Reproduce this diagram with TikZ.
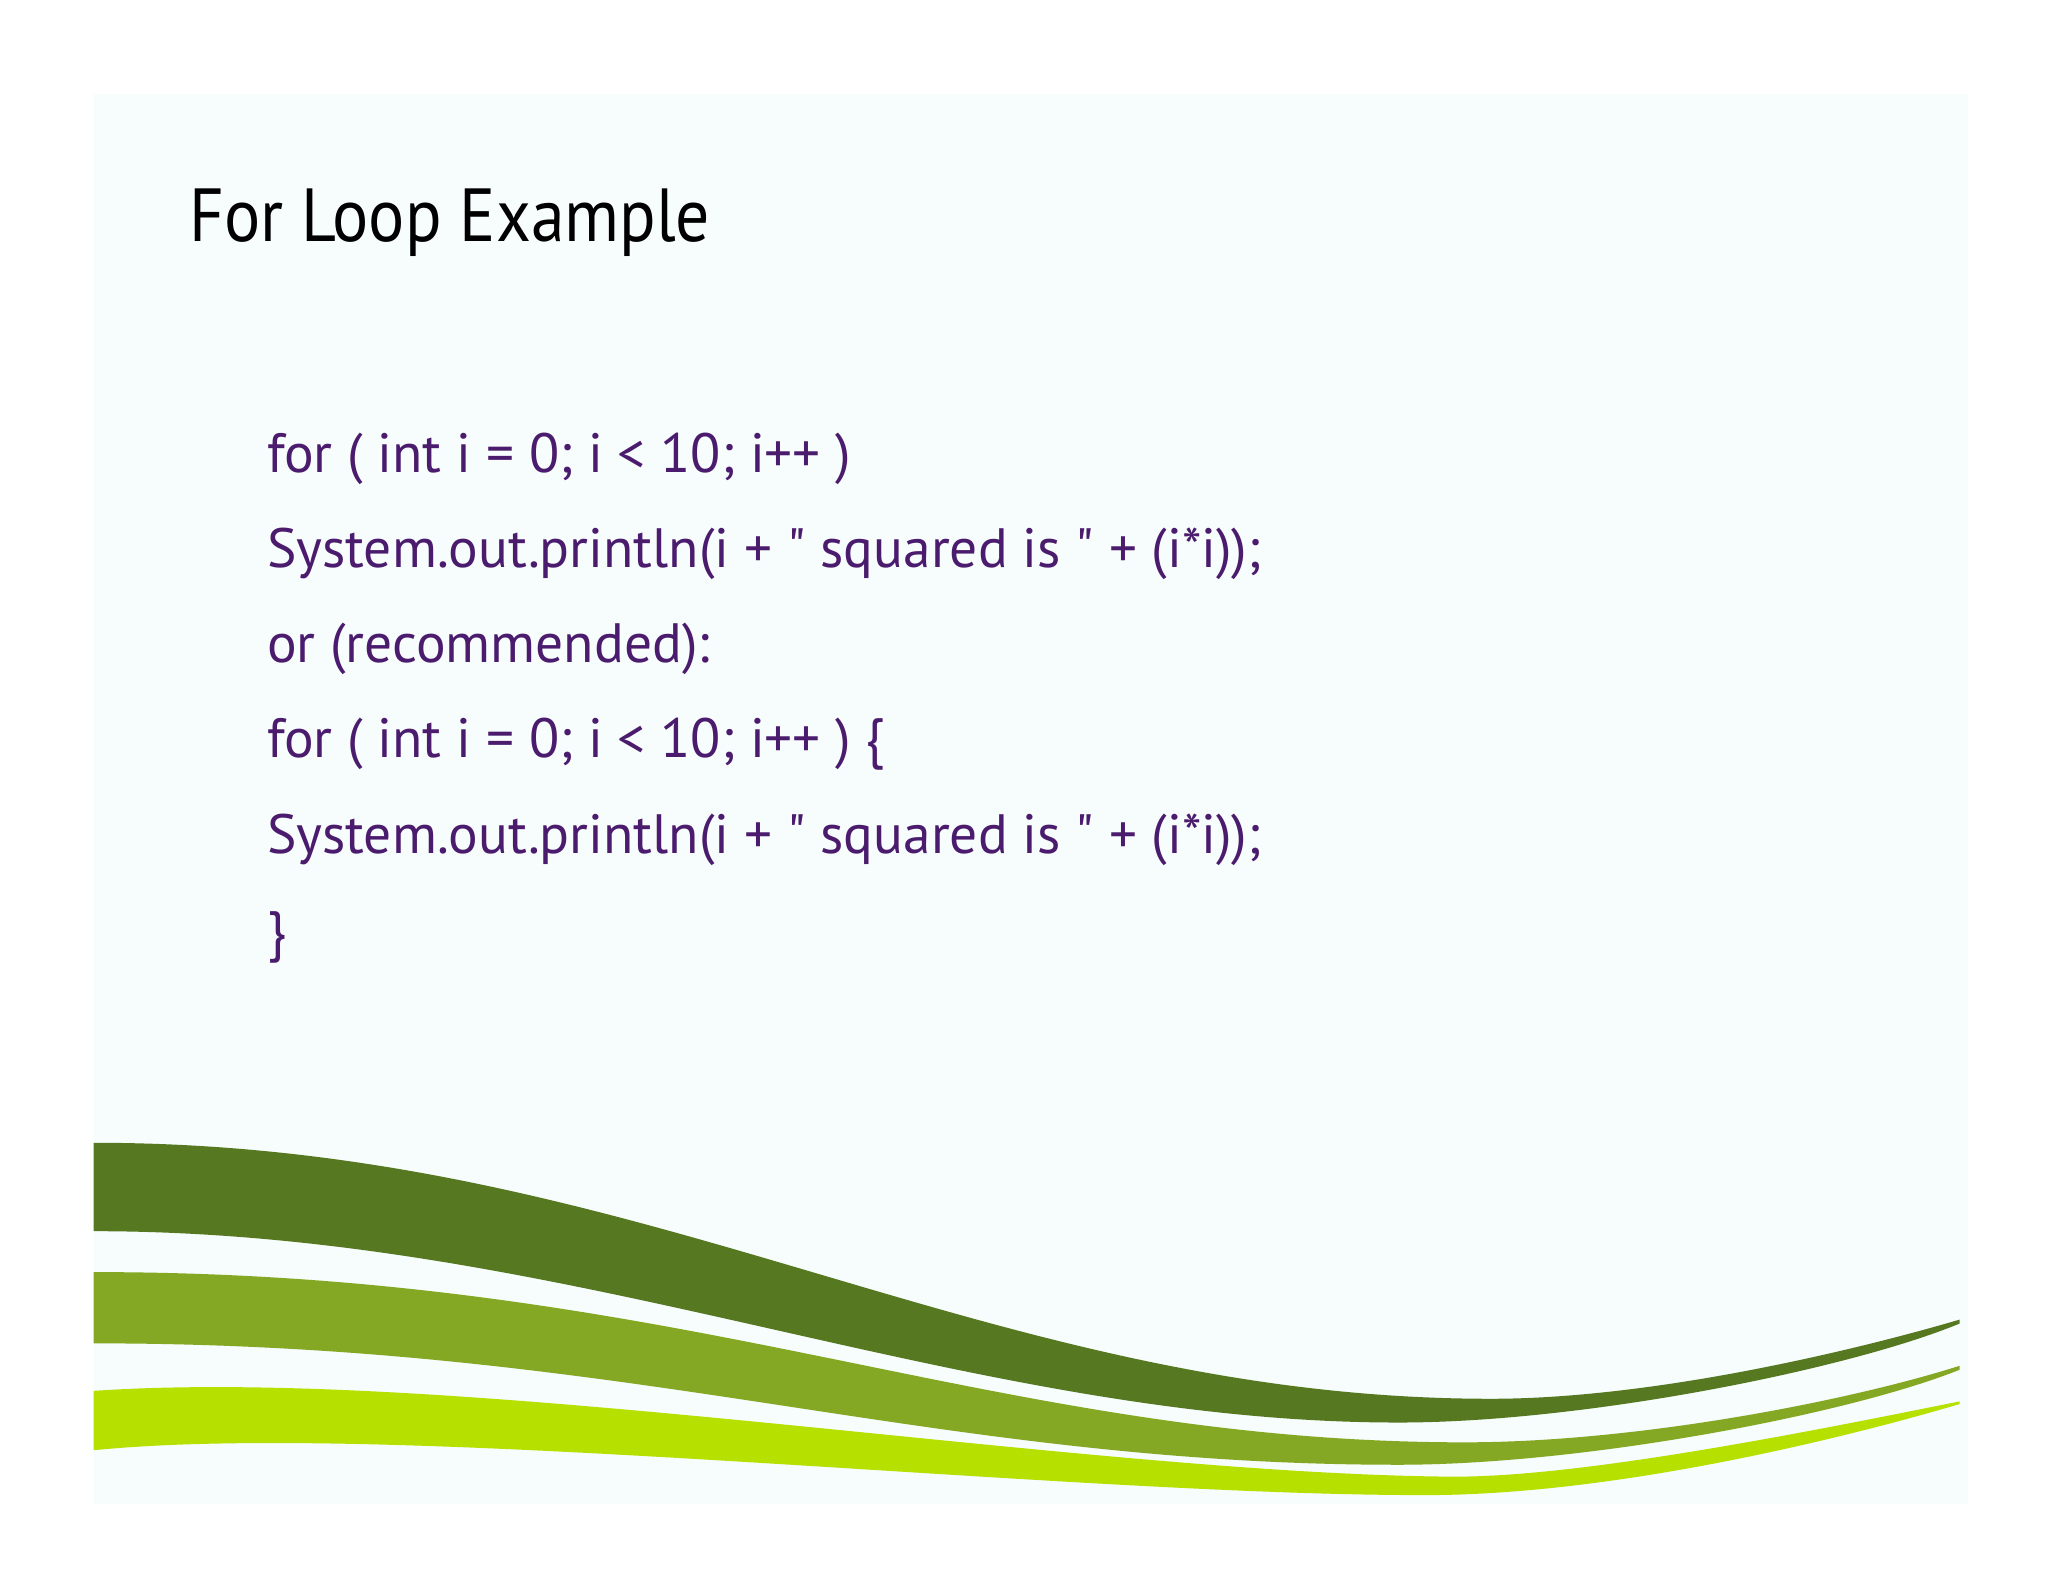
\documentclass[tikz,border=0pt]{standalone}
\usepackage{fontspec}
\setmainfont{PT Sans}
\usepackage{tikz}
\usepackage{xcolor}

\definecolor{slidebg}{RGB}{247,252,252}
\definecolor{codepurple}{RGB}{75,28,110}
\definecolor{darkleaf}{RGB}{86,120,32}
\definecolor{midleaf}{RGB}{132,168,36}
\definecolor{limeleaf}{RGB}{181,224,0}
\newcommand{\qt}{\XeTeXglyph\XeTeXcharglyph"0022\relax} % straight double quote

\begin{document}
\begin{tikzpicture}[x=0.5pt,y=0.5pt,yscale=-1,xscale=1,
    titletext/.style={anchor=base west,inner sep=0pt,font=\fontsize{28.5}{34}\selectfont},
    codetext/.style={anchor=base west,inner sep=0pt,text=codepurple,font=\fontsize{21}{25}\selectfont}]
    \useasboundingbox (0,0) rectangle (1552,1199); %page of the slide, same proportions as the picture

    %Shape: Rectangle [slide background]
    \fill [slidebg] (71,71) rectangle (1491,1140) ;

    %Shape: Wave [dark band]
    \fill [darkleaf] (71,866) .. controls (488,866) and (744,1060) .. (1130,1060) .. controls (1250,1060) and (1400,1025) .. (1485,1000) -- (1485,1003) .. controls (1400,1038) and (1200,1078) .. (1060,1078) .. controls (730,1078) and (433,933) .. (71,933) -- cycle ;
    %Shape: Wave [middle band]
    \fill [midleaf] (71,964) .. controls (521,964) and (751,1093) .. (1110,1093) .. controls (1240,1093) and (1400,1062) .. (1485,1035) -- (1485,1038) .. controls (1400,1072) and (1200,1110) .. (1060,1110) .. controls (704,1110) and (480,1018) .. (71,1018) -- cycle ;
    %Shape: Wave [lime band]
    \fill [limeleaf] (71,1054) .. controls (350,1035) and (820,1117) .. (1100,1119) .. controls (1200,1119.7) and (1380,1083) .. (1485,1062) -- (1485,1064) .. controls (1390,1092) and (1220,1133) .. (1080,1133) .. controls (800,1133) and (300,1076) .. (71,1099) -- cycle ;

    % Text Node
    \draw (143,183) node [titletext] (title) {\scalebox{0.9}[1]{For Loop Example}};
    % Text Node
    \draw (202,358) node [codetext] (loopone) {for ( int i = 0; i < 10; i++ )};
    % Text Node
    \draw (202,430) node [codetext] (printone) {System.out.println(i + \qt{} squared is \qt{} + (i*i));};
    % Text Node
    \draw (202,502) node [codetext] (recommend) {or (recommended):};
    % Text Node
    \draw (202,574) node [codetext] (looptwo) {for ( int i = 0; i < 10; i++ ) \{};
    % Text Node
    \draw (202,647) node [codetext] (printtwo) {System.out.println(i + \qt{} squared is \qt{} + (i*i));};
    % Text Node
    \draw (202,720) node [codetext] (closing) {\}};

\end{tikzpicture}
\end{document}
